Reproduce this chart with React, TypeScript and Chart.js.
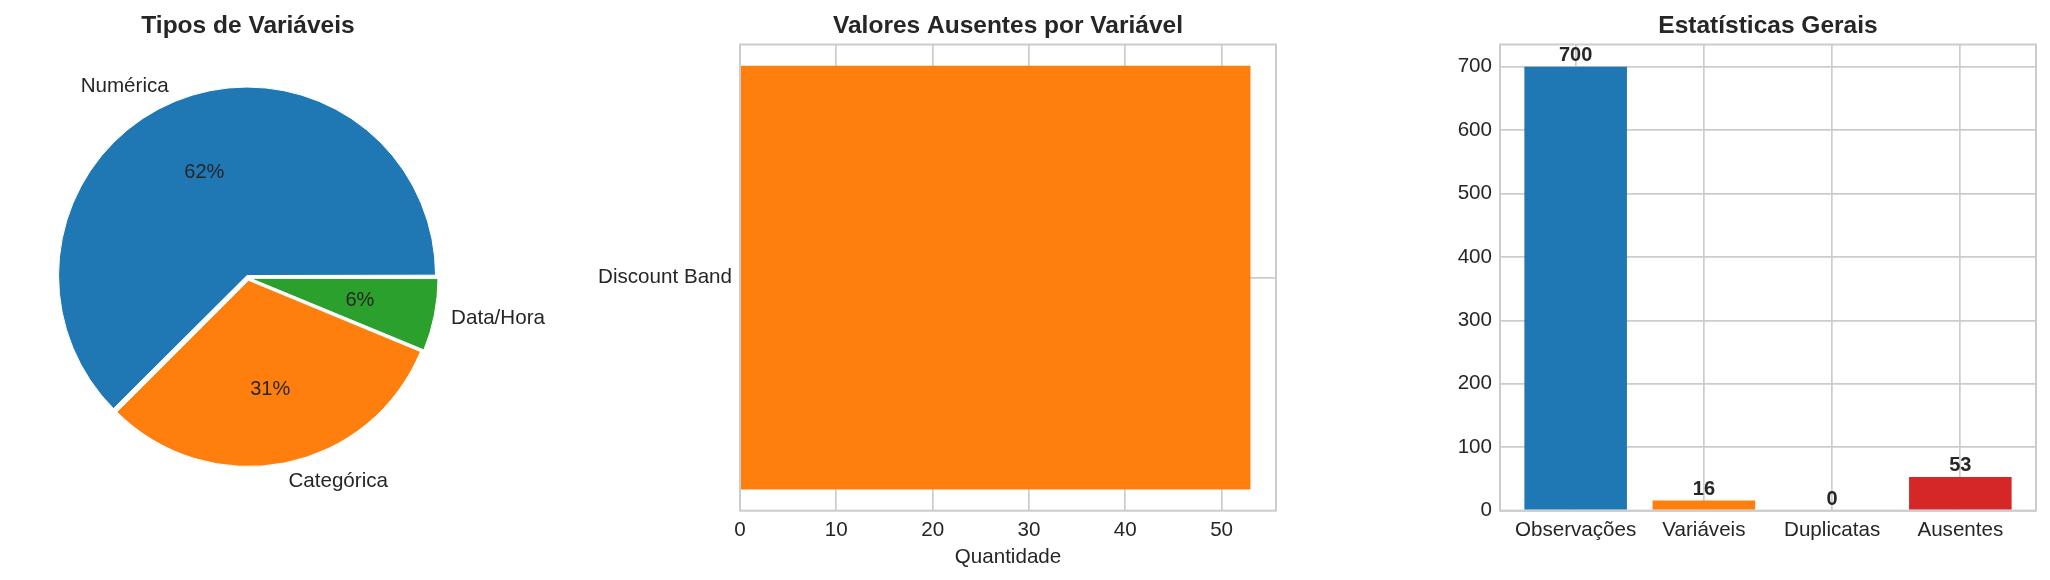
import React, { useEffect, useRef } from 'react';
import { Chart, registerables } from 'chart.js';

Chart.register(...registerables);

// ---------- data ----------
const pieLabels = ['Numérica', 'Categórica', 'Data/Hora'];
const pieValues = [10, 5, 1];
const pieColors = ['#1f77b4', '#ff7f0e', '#2ca02c'];

const missingLabels = ['Discount Band'];
const missingValues = [53];
const missingTicks = [0, 10, 20, 30, 40, 50];

const statLabels = ['Observações', 'Variáveis', 'Duplicatas', 'Ausentes'];
const statValues = [700, 16, 0, 53];
const statColors = ['#1f77b4', '#ff7f0e', '#2ca02c', '#d62728'];
const statTicks = [0, 100, 200, 300, 400, 500, 600, 700];

const titles = ['Tipos de Variáveis', 'Valores Ausentes por Variável', 'Estatísticas Gerais'];

// ---------- style ----------
const H = 580;
const FONT = "'Liberation Sans', Arial, Helvetica, sans-serif";
const TEXT = '#262626';
const GRID = '#cccccc';
const FS = 20.6;

Chart.defaults.font.family = FONT;
Chart.defaults.color = TEXT;

const titleOpts = (text: string) => ({
  display: true,
  text,
  color: TEXT,
  fullSize: false,
  font: { family: FONT, size: 24.5, weight: 'bold' as const, lineHeight: 1.2 },
  padding: { top: 11.7, bottom: 3.4 },
});

function pctText(v: number, total: number) {
  const p = (v / total) * 100;
  const f = Math.floor(p);
  const d = p - f;
  let r: number;
  if (Math.abs(d - 0.5) < 1e-9) r = f % 2 === 0 ? f : f + 1;
  else r = d > 0.5 ? f + 1 : f;
  return r + '%';
}

const framePlugin = {
  id: 'frame',
  afterDatasetsDraw(chart: any) {
    const { ctx, chartArea } = chart;
    ctx.save();
    ctx.strokeStyle = GRID;
    ctx.lineWidth = 2;
    ctx.strokeRect(chartArea.left, chartArea.top, chartArea.right - chartArea.left, chartArea.bottom - chartArea.top);
    ctx.restore();
  },
};

const barLabelPlugin = {
  id: 'barLabels',
  afterDatasetsDraw(chart: any) {
    const { ctx } = chart;
    const meta = chart.getDatasetMeta(0);
    const data = chart.data.datasets[0].data as any[];
    ctx.save();
    ctx.font = `bold 20px ${FONT}`;
    ctx.fillStyle = TEXT;
    ctx.textAlign = 'center';
    ctx.textBaseline = 'alphabetic';
    meta.data.forEach((bar: any, i: number) => {
      const { x, y } = bar.getProps(['x', 'y'], true);
      ctx.fillText(String(data[i].y), x, y - 5.5);
    });
    ctx.restore();
  },
};

const pieLabelPlugin = {
  id: 'pieLabels',
  afterDatasetsDraw(chart: any) {
    const { ctx } = chart;
    const meta = chart.getDatasetMeta(0);
    const data = chart.data.datasets[0].data as number[];
    const labels = chart.data.labels as string[];
    const total = data.reduce((a, b) => a + b, 0);
    ctx.save();
    ctx.fillStyle = TEXT;
    ctx.textBaseline = 'middle';
    meta.data.forEach((arc: any, i: number) => {
      const { x, y, startAngle, endAngle, outerRadius } = arc.getProps(
        ['x', 'y', 'startAngle', 'endAngle', 'outerRadius'],
        true
      );
      const mid = (startAngle + endAngle) / 2;
      const shift = (arc.options.offset || 0) / 4;
      const c = Math.cos(mid);
      const s = Math.sin(mid);
      const lr = outerRadius * 1.1 + shift;
      ctx.font = `${FS}px ${FONT}`;
      ctx.textAlign = c > 0 ? 'left' : 'right';
      ctx.fillText(labels[i], x + c * lr, y + s * lr);
      const pr = outerRadius * 0.6 + shift;
      ctx.font = `20px ${FONT}`;
      ctx.textAlign = 'center';
      ctx.fillText(pctText(data[i], total), x + c * pr, y + s * pr);
    });
    ctx.restore();
  },
};

// ---------- configs ----------
function pieConfig(): any {
  const order = [2, 1, 0]; // Chart.js draws clockwise; matplotlib counter-clockwise from 3 o'clock
  return {
    type: 'pie',
    data: {
      labels: order.map((i) => pieLabels[i]),
      datasets: [
        {
          data: order.map((i) => pieValues[i]),
          backgroundColor: order.map((i) => pieColors[i]),
          borderColor: '#ffffff',
          borderWidth: 1,
          offset: 10,
        },
      ],
    },
    options: {
      responsive: false,
      animation: false,
      events: [],
      rotation: 90,
      radius: 186,
      layout: { padding: { left: 0, right: 124, top: 0, bottom: 68.4 } },
      plugins: {
        legend: { display: false },
        tooltip: { enabled: false },
        title: { ...titleOpts(titles[0]), fullSize: true, padding: { top: 11.7, bottom: 3.0 } },
      },
    },
    plugins: [pieLabelPlugin],
  };
}

function missingConfig(): any {
  return {
    type: 'bar',
    data: {
      labels: missingLabels,
      datasets: [
        {
          data: missingValues,
          backgroundColor: '#ff7f0e',
          borderWidth: 0,
          barPercentage: 0.8 / 0.88,
          categoryPercentage: 1,
        },
      ],
    },
    options: {
      indexAxis: 'y',
      responsive: false,
      animation: false,
      events: [],
      layout: { padding: { left: 0, right: 24, top: 0, bottom: 0 } },
      scales: {
        x: {
          type: 'linear',
          min: 0,
          max: 53 * 1.05,
          afterBuildTicks: (scale: any) => {
            scale.ticks = missingTicks.map((v) => ({ value: v }));
          },
          afterFit: (scale: any) => {
            scale.height = 69.3;
          },
          grid: { color: GRID, lineWidth: 1.7, drawTicks: false },
          border: { display: false },
          ticks: { color: TEXT, font: { size: FS }, padding: 7.3, maxRotation: 0, autoSkip: false },
          title: {
            display: true,
            text: 'Quantidade',
            color: TEXT,
            font: { size: FS },
            padding: { top: 0, bottom: 10.3 },
          },
        },
        y: {
          type: 'category',
          afterFit: (scale: any) => {
            scale.width = 180;
          },
          grid: { color: GRID, lineWidth: 1.7, drawTicks: false, offset: false },
          border: { display: false },
          ticks: { color: TEXT, font: { size: FS }, padding: 8 },
        },
      },
      plugins: {
        legend: { display: false },
        tooltip: { enabled: false },
        title: titleOpts(titles[1]),
      },
    },
    plugins: [framePlugin],
  };
}

function statsConfig(): any {
  return {
    type: 'bar',
    data: {
      datasets: [
        {
          data: statValues.map((v, i) => ({ x: i, y: v })),
          backgroundColor: statColors,
          borderWidth: 0,
          barPercentage: 0.8,
          categoryPercentage: 1,
        },
      ],
    },
    options: {
      responsive: false,
      animation: false,
      events: [],
      layout: { padding: { left: 0, right: 14, top: 0, bottom: 0 } },
      scales: {
        x: {
          type: 'linear',
          offset: false,
          min: -0.59,
          max: 3.59,
          afterBuildTicks: (scale: any) => {
            scale.ticks = statLabels.map((_, i) => ({ value: i }));
          },
          afterFit: (scale: any) => {
            scale.height = 69.4;
          },
          grid: { color: GRID, lineWidth: 1.7, drawTicks: false, offset: false },
          border: { display: false },
          ticks: {
            color: TEXT,
            font: { size: FS },
            padding: 7.2,
            maxRotation: 0,
            minRotation: 0,
            autoSkip: false,
            callback: (v: any) => statLabels[Math.round(Number(v))] ?? '',
          },
        },
        y: {
          type: 'linear',
          min: 0,
          max: 700 * 1.05,
          afterBuildTicks: (scale: any) => {
            scale.ticks = statTicks.map((v) => ({ value: v }));
          },
          afterFit: (scale: any) => {
            scale.width = 100;
          },
          grid: { color: GRID, lineWidth: 1.7, drawTicks: false },
          border: { display: false },
          ticks: { color: TEXT, font: { size: FS }, padding: 8 },
        },
      },
      plugins: {
        legend: { display: false },
        tooltip: { enabled: false },
        title: titleOpts(titles[2]),
      },
    },
    plugins: [framePlugin, barLabelPlugin],
  };
}

// ---------- components ----------
function ChartBox({ left, width, make }: { left: number; width: number; make: () => any }) {
  const ref = useRef<HTMLCanvasElement>(null);
  useEffect(() => {
    if (!ref.current) return;
    const chart = new Chart(ref.current, make());
    return () => chart.destroy();
  }, [make]);
  return (
    <div style={{ position: 'absolute', left, top: 0, width, height: H }}>
      <canvas ref={ref} width={width} height={H} style={{ display: 'block', width, height: H }} />
    </div>
  );
}

export default function App() {
  return (
    <div
      style={{
        position: 'fixed',
        left: 0,
        top: 0,
        width: 2050,
        height: H,
        background: '#ffffff',
        overflow: 'hidden',
      }}
    >
      <ChartBox left={0} width={620} make={pieConfig} />
      <ChartBox left={560} width={740} make={missingConfig} />
      <ChartBox left={1400} width={650} make={statsConfig} />
    </div>
  );
}
